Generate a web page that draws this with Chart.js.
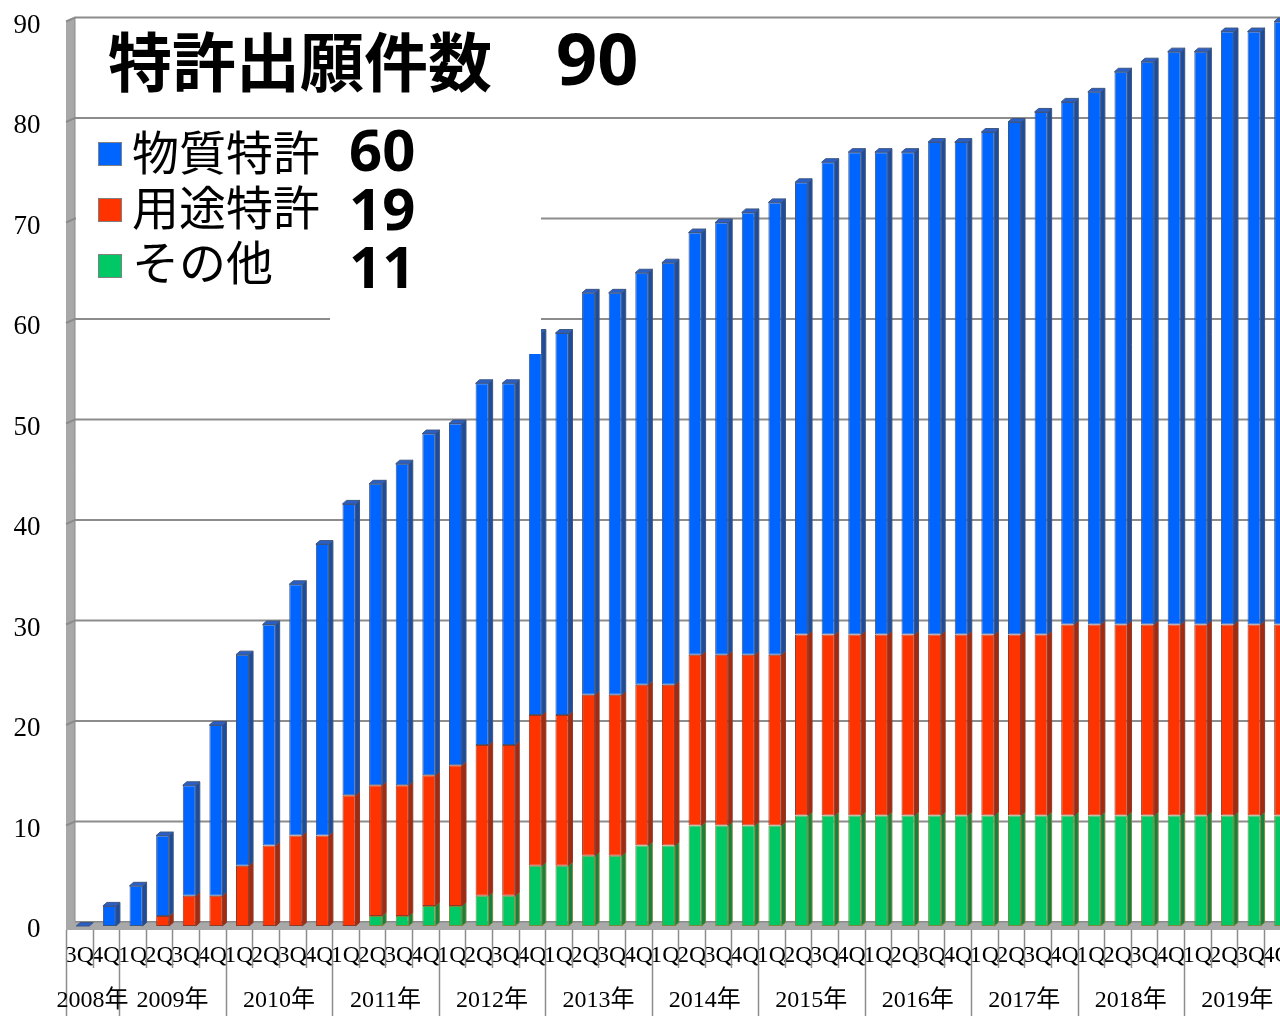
<!DOCTYPE html>
<html lang="ja">
<head>
<meta charset="utf-8">
<title>特許出願件数</title>
<script src="https://cdn.jsdelivr.net/npm/chart.js@4/dist/chart.umd.min.js"></script>
<style>
html, body { margin: 0; padding: 0; background: #fff; overflow: hidden; }
#wrap { width: 1280px; height: 1016px; overflow: hidden; }
</style>
</head>
<body>
<div id="wrap"><canvas id="myChart" width="1300" height="1016"></canvas></div>
<script>
// quarters from 2008 3Q to 2019 4Q
const quarters = ['3Q','4Q',
  '1Q','2Q','3Q','4Q', '1Q','2Q','3Q','4Q', '1Q','2Q','3Q','4Q', '1Q','2Q','3Q','4Q',
  '1Q','2Q','3Q','4Q', '1Q','2Q','3Q','4Q', '1Q','2Q','3Q','4Q', '1Q','2Q','3Q','4Q',
  '1Q','2Q','3Q','4Q', '1Q','2Q','3Q','4Q', '1Q','2Q','3Q','4Q'];
const years = ['2008年','2009年','2010年','2011年','2012年','2013年','2014年','2015年','2016年','2017年','2018年','2019年'];
const yearSpans = [2,4,4,4,4,4,4,4,4,4,4,4];

const seriesNames = ['物質特許','用途特許','その他'];
// cumulative counts per series
const busshitsu = [0,2,4,8,11,17,21,22,25,29, 29,30,32,34,34,36,36,38,38,40, 40,41,42,42,43,44,45,45,47,48, 48,48,49,49,50,51,52,52,53,55, 56,57,57,59,59,60];
const youto     = [0,0,0,1,3,3,6,8,9,9, 13,13,13,13,14,15,15,15,15,16, 16,16,16,17,17,17,17,18,18,18, 18,18,18,18,18,18,18,19,19,19, 19,19,19,19,19,19];
const sonota    = [0,0,0,0,0,0,0,0,0,0, 0,1,1,2,2,3,3,6,6,7, 7,8,8,10,10,10,10,11,11,11, 11,11,11,11,11,11,11,11,11,11, 11,11,11,11,11,11];

const title = '特許出願件数';

// colours: front, side, top, outline
const colBlue  = ['#0064ff', '#1d4c9c', '#2a5fc8', '#3d5680'];
const colRed   = ['#ff3300', '#a3290f', '#d0300c', '#8c3a2a'];
const colGreen = ['#00c864', '#16803e', '#0fa452', '#7c8a3c'];

const DX = 4, DY = -3.5;     // bar depth
const WX = 9, WY = -4;       // wall depth
const FRONT = -3.5;          // floor front edge vs bar position

function poly(ctx, pts, fill, stroke) {
  ctx.beginPath();
  ctx.moveTo(pts[0][0], pts[0][1]);
  for (let i = 1; i < pts.length; i++) ctx.lineTo(pts[i][0], pts[i][1]);
  ctx.closePath();
  ctx.fillStyle = fill;
  ctx.fill();
  if (stroke) { ctx.strokeStyle = stroke; ctx.lineWidth = 1; ctx.stroke(); }
}

const wallPlugin = {
  id: 'wall',
  beforeDatasetsDraw(chart) {
    const ctx = chart.ctx;
    const a = chart.chartArea;
    const y = chart.scales.y;
    const fx = a.left + FRONT, bx = fx + WX;
    const W = chart.width;
    ctx.save();
    // floor
    ctx.fillStyle = '#a8a8a8';
    ctx.fillRect(fx, a.bottom - 5, W - fx, 9);
    ctx.fillStyle = '#8a8a8a';
    ctx.fillRect(bx, a.bottom - 5, W - bx, 1.5);
    // left wall
    poly(ctx, [[fx, a.bottom + 4], [fx, y.getPixelForValue(90)], [bx, y.getPixelForValue(90) + WY], [bx, a.bottom - 5]], '#a8a8a8');
    ctx.strokeStyle = '#8a8a8a';
    ctx.lineWidth = 1;
    ctx.beginPath();
    ctx.moveTo(bx, y.getPixelForValue(90) + WY);
    ctx.lineTo(bx, a.bottom - 5);
    ctx.stroke();
    // gridlines on wall and back plane
    ctx.strokeStyle = '#8c8c8c';
    ctx.lineWidth = 2;
    y.ticks.forEach(t => {
      if (t.value === 0) return;
      const yf = y.getPixelForValue(t.value);
      ctx.beginPath();
      ctx.moveTo(fx, yf);
      ctx.lineTo(bx, yf + WY);
      ctx.lineTo(W, yf + WY);
      ctx.stroke();
    });
    // category separators and year labels under the floor
    const n = chart.data.labels.length;
    const cw = (a.right - a.left) / n;
    const longAt = [0];
    yearSpans.forEach((s, i) => longAt.push(longAt[i] + s));
    ctx.strokeStyle = '#8c8c8c';
    ctx.lineWidth = 1.5;
    for (let k = 0; k <= n; k++) {
      const xx = Math.round(fx + k * cw) + 0.5;
      const isLong = longAt.includes(k);
      ctx.beginPath();
      ctx.moveTo(xx, a.bottom + 4);
      ctx.lineTo(xx, isLong ? chart.height : 968);
      ctx.stroke();
    }
    ctx.fillStyle = '#000';
    ctx.font = '24px "Liberation Serif", "Noto Sans CJK JP"';
    ctx.textAlign = 'center';
    ctx.textBaseline = 'middle';
    years.forEach((yr, i) => {
      const cx = fx + (longAt[i] + longAt[i + 1]) / 2 * cw;
      ctx.fillText(yr, cx, 1001);
    });
    ctx.restore();
  }
};

const bar3dPlugin = {
  id: 'bar3d',
  afterDatasetsDraw(chart) {
    const ctx = chart.ctx;
    const n = chart.data.labels.length;
    const cols = [colGreen, colRed, colBlue];
    ctx.save();
    for (let i = 0; i < n; i++) {
      let top = null, topCol = null;
      chart.data.datasets.forEach((ds, k) => {
        const el = chart.getDatasetMeta(k).data[i];
        const r = el.x + el.width / 2;
        if (Math.abs(el.base - el.y) > 0.5) {
          poly(ctx, [[r, el.y], [r + DX, el.y + DY], [r + DX, el.base + DY], [r, el.base]], cols[k][1], cols[k][3]);
          top = el; topCol = cols[k];
        }
      });
      if (!top) { top = chart.getDatasetMeta(2).data[i]; topCol = colBlue; }
      const l = top.x - top.width / 2, r = top.x + top.width / 2;
      poly(ctx, [[l, top.y], [l + DX, top.y + DY], [r + DX, top.y + DY], [r, top.y]], topCol[2], topCol[3]);
    }
    // white text boxes over the plot
    ctx.fillStyle = '#fff';
    ctx.fillRect(76, 124, 254, 190);
    ctx.fillRect(330, 124, 211, 230);
    ctx.restore();
  },
  afterDraw(chart) {
    const ctx = chart.ctx;
    const last = busshitsu.length - 1;
    const values = [busshitsu[last], youto[last], sonota[last]];
    const total = values[0] + values[1] + values[2];
    const legendCols = [colBlue, colRed, colGreen];
    ctx.save();
    ctx.fillStyle = '#000';
    ctx.textBaseline = 'middle';
    ctx.textAlign = 'left';
    ctx.font = 'bold 64px "Noto Sans CJK JP"';
    ctx.fillText(title, 108, 62);
    ctx.font = 'bold 72px "Noto Sans"';
    ctx.fillText(String(total), 556, 64);

    const sqY = [154, 210, 266];
    const txY = [152, 207, 262];
    const numY = [154, 213, 271];
    seriesNames.forEach((name, i) => {
      ctx.fillStyle = legendCols[i][0];
      ctx.fillRect(98, sqY[i] - 12, 24, 24);
      ctx.strokeStyle = '#808080';
      ctx.lineWidth = 1;
      ctx.strokeRect(98.5, sqY[i] - 11.5, 23, 23);
      ctx.fillStyle = '#000';
      ctx.font = '47px "Noto Sans CJK JP"';
      ctx.fillText(name, 132, txY[i]);
      ctx.font = 'bold 58px "Noto Sans"';
      ctx.fillText(String(values[i]), 349, numY[i]);
    });
    ctx.restore();
  }
};

new Chart(document.getElementById('myChart'), {
  type: 'bar',
  data: {
    labels: quarters,
    datasets: [
      { label: seriesNames[2], data: sonota, backgroundColor: colGreen[0], borderColor: colGreen[3] },
      { label: seriesNames[1], data: youto, backgroundColor: colRed[0], borderColor: colRed[3] },
      { label: seriesNames[0], data: busshitsu, backgroundColor: colBlue[0], borderColor: colBlue[3] }
    ]
  },
  options: {
    responsive: false,
    animation: false,
    devicePixelRatio: 1,
    layout: { padding: { top: 21.5, right: 6, left: 0, bottom: 0 } },
    datasets: { bar: { barPercentage: 0.49, categoryPercentage: 1, borderWidth: 1, borderSkipped: false } },
    plugins: { legend: { display: false }, tooltip: { enabled: false } },
    scales: {
      x: {
        stacked: true,
        grid: { display: false, drawTicks: false },
        border: { display: false },
        ticks: { autoSkip: false, maxRotation: 0, color: '#000', padding: 15, labelOffset: FRONT,
                 font: { family: '"Liberation Serif"', size: 24 } },
        afterFit(s) { s.height = 90; s.paddingLeft = 0; s.paddingRight = 0; }
      },
      y: {
        stacked: true, min: 0, max: 90,
        grid: { display: false, drawTicks: false },
        border: { display: false },
        ticks: { stepSize: 10, color: '#000', padding: 29, labelOffset: 4,
                 font: { family: '"Liberation Serif"', size: 27 } },
        afterFit(s) { s.width = 69.5; s.paddingTop = 0; s.paddingBottom = 0; }
      }
    }
  },
  plugins: [wallPlugin, bar3dPlugin]
});
</script>
</body>
</html>
